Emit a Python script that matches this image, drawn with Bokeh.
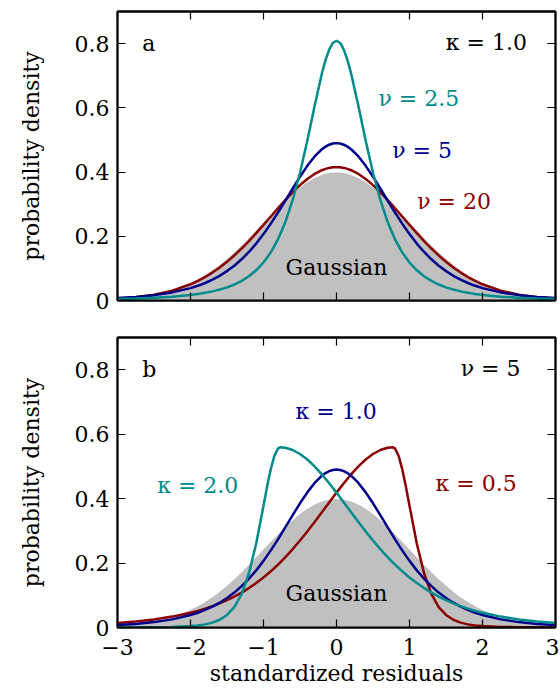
from bokeh.plotting import figure
from bokeh.models import LinearAxis, FixedTicker, Label, Range1d, CustomLabelingPolicy
from bokeh.layouts import column
from bokeh.embed import file_html
from bokeh.resources import INLINE

# ---------------- data ----------------
x_ticks = [-3, -2, -1, 0, 1, 2, 3]
x_tick_labels = ["\u22123", "\u22122", "\u22121", "0", "1", "2", "3"]
y_ticks = [0, 0.2, 0.4, 0.6, 0.8]
y_tick_labels = ["0", "0.2", "0.4", "0.6", "0.8"]

x_a = [-3.0, -2.75, -2.5, -2.25, -2.0, -1.9, -1.8, -1.7, -1.6, -1.5, -1.4, -1.3, -1.2, -1.1, -1.0,
       -0.9, -0.8, -0.7, -0.6, -0.5, -0.4, -0.3, -0.2, -0.15, -0.1, -0.05, 0.0,
       0.05, 0.1, 0.15, 0.2, 0.3, 0.4, 0.5, 0.6, 0.7, 0.8, 0.9, 1.0, 1.1, 1.2, 1.3, 1.4, 1.5,
       1.6, 1.7, 1.8, 1.9, 2.0, 2.25, 2.5, 2.75, 3.0]

gauss = [0.0044, 0.0091, 0.0175, 0.0317, 0.0540, 0.0656, 0.0790, 0.0940, 0.1109, 0.1295, 0.1497,
         0.1714, 0.1942, 0.2179, 0.2420, 0.2661, 0.2897, 0.3123, 0.3332, 0.3521, 0.3683, 0.3814,
         0.3910, 0.3945, 0.3970, 0.3984, 0.3989, 0.3984, 0.3970, 0.3945, 0.3910, 0.3814, 0.3683,
         0.3521, 0.3332, 0.3123, 0.2897, 0.2661, 0.2420, 0.2179, 0.1942, 0.1714, 0.1497, 0.1295,
         0.1109, 0.0940, 0.0790, 0.0656, 0.0540, 0.0317, 0.0175, 0.0091, 0.0044]

nu20 = [0.0059, 0.0104, 0.0182, 0.0308, 0.0505, 0.0609, 0.0730, 0.0870, 0.1028, 0.1206, 0.1403,
        0.1619, 0.1851, 0.2098, 0.2354, 0.2616, 0.2878, 0.3132, 0.3373, 0.3593, 0.3785, 0.3941,
        0.4057, 0.4099, 0.4129, 0.4147, 0.4153, 0.4147, 0.4129, 0.4099, 0.4057, 0.3941, 0.3785,
        0.3593, 0.3373, 0.3132, 0.2878, 0.2616, 0.2354, 0.2098, 0.1851, 0.1619, 0.1403, 0.1206,
        0.1028, 0.0870, 0.0730, 0.0609, 0.0505, 0.0308, 0.0182, 0.0104, 0.0059]

nu5 = [0.0077, 0.0112, 0.0167, 0.0252, 0.0386, 0.0458, 0.0545, 0.0648, 0.0770, 0.0915, 0.1084,
       0.1283, 0.1512, 0.1773, 0.2068, 0.2393, 0.2744, 0.3113, 0.3488, 0.3855, 0.4194, 0.4485,
       0.4710, 0.4792, 0.4852, 0.4889, 0.4901, 0.4889, 0.4852, 0.4792, 0.4710, 0.4485, 0.4194,
       0.3855, 0.3488, 0.3113, 0.2744, 0.2393, 0.2068, 0.1773, 0.1512, 0.1283, 0.1084, 0.0915,
       0.0770, 0.0648, 0.0545, 0.0458, 0.0386, 0.0252, 0.0167, 0.0112, 0.0077]

nu25 = [0.0047, 0.0062, 0.0085, 0.0119, 0.0173, 0.0203, 0.0239, 0.0284, 0.0340, 0.0409, 0.0498,
        0.0610, 0.0754, 0.0940, 0.1184, 0.1499, 0.1912, 0.2448, 0.3132, 0.3979, 0.4977, 0.6056,
        0.7071, 0.7490, 0.7814, 0.8020, 0.8090, 0.8020, 0.7814, 0.7490, 0.7071, 0.6056, 0.4977,
        0.3979, 0.3132, 0.2448, 0.1912, 0.1499, 0.1184, 0.0940, 0.0754, 0.0610, 0.0498, 0.0409,
        0.0340, 0.0284, 0.0239, 0.0203, 0.0173, 0.0119, 0.0085, 0.0062, 0.0047]

x_k20 = [-3.0, -2.75, -2.5, -2.25, -2.0, -1.9, -1.8, -1.7, -1.6, -1.5, -1.4, -1.3, -1.2, -1.1, -1.0,
         -0.95, -0.9, -0.85, -0.8, -0.773, -0.7, -0.6, -0.5, -0.4, -0.3, -0.2, -0.1, 0.0,
         0.1, 0.2, 0.3, 0.4, 0.5, 0.6, 0.7, 0.8, 0.9, 1.0, 1.1, 1.2, 1.3, 1.4, 1.5, 1.6, 1.7,
         1.8, 1.9, 2.0, 2.25, 2.5, 2.75, 3.0]
k20 = [0.0002, 0.0004, 0.0007, 0.0017, 0.0043, 0.0064, 0.0097, 0.0152, 0.0241, 0.0389, 0.0635,
       0.1038, 0.1677, 0.2607, 0.3779, 0.4380, 0.4919, 0.5332, 0.5559, 0.5592, 0.5577, 0.5508,
       0.5385, 0.5214, 0.5001, 0.4753, 0.4479, 0.4186, 0.3883, 0.3578, 0.3275, 0.2981, 0.2700,
       0.2434, 0.2185, 0.1955, 0.1744, 0.1552, 0.1379, 0.1223, 0.1083, 0.0958, 0.0847, 0.0749,
       0.0662, 0.0585, 0.0517, 0.0457, 0.0338, 0.0250, 0.0187, 0.0141]

x_k05 = [-3.0, -2.75, -2.5, -2.25, -2.0, -1.9, -1.8, -1.7, -1.6, -1.5, -1.4, -1.3, -1.2, -1.1, -1.0,
         -0.9, -0.8, -0.7, -0.6, -0.5, -0.4, -0.3, -0.2, -0.1, 0.0, 0.1, 0.2, 0.3, 0.4, 0.5, 0.6,
         0.7, 0.773, 0.8, 0.85, 0.9, 0.95, 1.0, 1.1, 1.2, 1.3, 1.4, 1.5, 1.6, 1.7, 1.8, 1.9, 2.0,
         2.25, 2.5, 2.75, 3.0]
k05 = [0.0141, 0.0187, 0.0250, 0.0338, 0.0457, 0.0517, 0.0585, 0.0662, 0.0749, 0.0847, 0.0958,
       0.1083, 0.1223, 0.1379, 0.1552, 0.1744, 0.1955, 0.2185, 0.2434, 0.2700, 0.2981, 0.3275,
       0.3578, 0.3883, 0.4186, 0.4479, 0.4753, 0.5001, 0.5214, 0.5385, 0.5508, 0.5577, 0.5592,
       0.5559, 0.5332, 0.4919, 0.4380, 0.3779, 0.2607, 0.1677, 0.1038, 0.0635, 0.0389, 0.0241,
       0.0152, 0.0097, 0.0064, 0.0043, 0.0017, 0.0007, 0.0004, 0.0002]

# ---------------- style ----------------
FONT = "DejaVu Serif"
FS = "22px"
TEAL = "#008b8b"
BLUE = "#00008b"
RED = "#8b0000"
GRAY = "#c0c0c0"

NO_LABELS = """
const all = [...indices];
for (const i of all) indices.unset(i);
return indices;
"""


def add_axis(p, side, ticks, labels=None, axis_label=None):
    ax = LinearAxis(ticker=FixedTicker(ticks=ticks))
    ax.major_tick_in = 8
    ax.major_tick_out = 0
    ax.minor_tick_in = 0
    ax.minor_tick_out = 0
    ax.axis_line_color = "black"
    ax.axis_line_width = 1.8
    ax.major_tick_line_width = 1.2
    if labels is None:
        ax.major_label_policy = CustomLabelingPolicy(code=NO_LABELS)
        ax.major_label_text_font_size = "1px"
        ax.major_label_standoff = 0
    else:
        ax.major_label_overrides = {t: l for t, l in zip(ticks, labels)}
        ax.major_label_text_font = FONT
        ax.major_label_text_font_size = FS
        ax.major_label_text_color = "black"
        ax.major_label_standoff = 8 if side == "left" else 11
    if axis_label:
        ax.axis_label = axis_label
        ax.axis_label_text_font = FONT
        ax.axis_label_text_font_size = FS
        ax.axis_label_text_font_style = "normal"
        ax.axis_label_text_color = "black"
        ax.axis_label_standoff = 28 if side == "left" else 3
    p.add_layout(ax, side)
    return ax


def make_fig(top, bottom, fh, xlabels):
    p = figure(frame_width=438, frame_height=fh,
               x_range=Range1d(-3, 3), y_range=Range1d(0, 0.9),
               x_axis_location=None, y_axis_location=None,
               output_backend="svg", toolbar_location=None,
               min_border_left=117, min_border_right=4,
               min_border_top=top, min_border_bottom=bottom)
    p.grid.visible = False
    p.outline_line_color = "black"
    p.outline_line_width = 1.8
    p.background_fill_color = "white"
    p.border_fill_color = "white"
    add_axis(p, "left", y_ticks, y_tick_labels, "probability density")
    add_axis(p, "right", y_ticks)
    add_axis(p, "above", x_ticks)
    if xlabels:
        add_axis(p, "below", x_ticks, x_tick_labels, "standardized residuals")
    else:
        add_axis(p, "below", x_ticks)
    return p


def lab(p, x, y, text, color="black", align="left", baseline="middle"):
    p.add_layout(Label(x=x, y=y, text=text, text_font=FONT, text_font_size=FS,
                       text_color=color, text_align=align, text_baseline=baseline))


# ---------------- panel a ----------------
pa = make_fig(11, 18, 289, False)
pa.varea(x=x_a, y1=0, y2=gauss, fill_color=GRAY)
pa.line(x_a, nu20, line_color=RED, line_width=2.5)
pa.line(x_a, nu5, line_color=BLUE, line_width=2.5)
pa.line(x_a, nu25, line_color=TEAL, line_width=2.5)
lab(pa, -2.66, 0.80, "a")
lab(pa, 2.61, 0.805, "\u03ba = 1.0", align="right")
lab(pa, 0.575, 0.628, "\u03bd = 2.5", TEAL)
lab(pa, 0.763, 0.468, "\u03bd = 5", BLUE)
lab(pa, 1.105, 0.309, "\u03bd = 20", RED)
lab(pa, 0.0, 0.103, "Gaussian", align="center", baseline="alphabetic")

# ---------------- panel b ----------------
pb = make_fig(19, 60, 290, True)
pb.varea(x=x_a, y1=0, y2=gauss, fill_color=GRAY)
pb.line(x_k05, k05, line_color=RED, line_width=2.5)
pb.line(x_a, nu5, line_color=BLUE, line_width=2.5)
pb.line(x_k20, k20, line_color=TEAL, line_width=2.5)
lab(pb, -2.66, 0.80, "b")
lab(pb, 2.52, 0.803, "\u03bd = 5", align="right")
lab(pb, -0.56, 0.671, "\u03ba = 1.0", BLUE)
lab(pb, -2.457, 0.44, "\u03ba = 2.0", TEAL)
lab(pb, 1.356, 0.446, "\u03ba = 0.5", RED)
lab(pb, 0.0, 0.104, "Gaussian", align="center", baseline="alphabetic")

layout = column(pa, pb)
open("out.html", "w").write(file_html(layout, INLINE))
